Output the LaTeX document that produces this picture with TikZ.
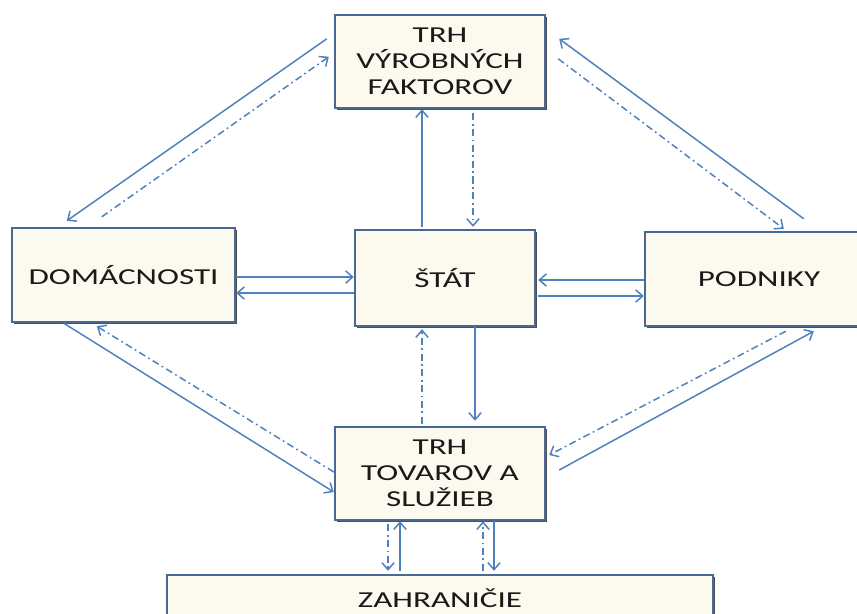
\documentclass[tikz,border=0pt]{standalone}
\usepackage{fontspec}
\setmainfont{Carlito}[FakeStretch=1.45]
\usepackage{tikz}
\usetikzlibrary{arrows.meta}
\usetikzlibrary{calc}
\usetikzlibrary{shadows}
\definecolor{boxfill}{HTML}{FCFAEF}
\definecolor{boxline}{HTML}{4A6894}
\definecolor{arrowblue}{HTML}{4F81BD}

\begin{document}
\begin{tikzpicture}[x=0.02cm, y=-0.02cm,
  box/.style={draw=boxline, line width=1.4pt, fill=boxfill, align=center,
    inner sep=0pt, text=black!90,
    font=\fontsize{13}{14.8}\selectfont,
    drop shadow={shadow xshift=1.3pt, shadow yshift=-1.3pt, fill=black!80, opacity=0.85}},
  flow/.style={draw=arrowblue, line width=0.85pt, -{Straight Barb[length=4pt,width=7pt]}},
  dflow/.style={flow, dash pattern=on 4pt off 2pt on 1pt off 2pt}]
\useasboundingbox (0,0) rectangle (857,613);
\node [box, minimum width=4.2cm, minimum height=1.86cm] (trhvf) at (440,61.5) {TRH\\VÝROBNÝCH\\FAKTOROV};
\node [box, minimum width=4.46cm, minimum height=1.88cm] (dom) at (123.5,275) {DOMÁCNOSTI};
\node [box, minimum width=3.6cm, minimum height=1.92cm] (stat) at (445,278) {ŠTÁT};
\node [box, minimum width=4.56cm, minimum height=1.88cm] (podn) at (759,279) {PODNIKY};
\node [box, minimum width=4.2cm, minimum height=1.86cm] (trhts) at (440,473.5) {TRH\\TOVAROV A\\SLUŽIEB};
\node [box, minimum width=10.92cm, minimum height=0.92cm] (zahr) at (440,598) {ZAHRANIČIE};
% trh vyrobnych faktorov
\draw [flow] ($(trhvf.north west)+(-7,25)$) -- ($(dom.north west)+(56,-6)$);
\draw [dflow] ($(dom.north west)+(91,-10)$) -- ($(trhvf.north west)+(-5,43)$);
\draw [flow] ($(podn.north west)+(160,-12)$) -- ($(trhvf.north east)+(13,25)$);
\draw [dflow] ($(trhvf.north east)+(12,45)$) -- ($(podn.north west)+(140,-2)$);
\draw [flow] ($(stat.north)+(-23,-2)$) -- ($(trhvf.south)+(-18,0)$);
\draw [dflow] ($(trhvf.south)+(33,4)$) -- ($(stat.north)+(28,-2)$);
% stat
\draw [flow] ($(dom.east)+(0,2)$) -- ($(stat.west)+(0,-1)$);
\draw [flow] ($(stat.west)+(0,15)$) -- ($(dom.east)+(0,18)$);
\draw [flow] ($(podn.west)+(0,1)$) -- ($(stat.east)+(2,2)$);
\draw [flow] ($(stat.east)+(2,18)$) -- ($(podn.west)+(0,17)$);
\draw [dflow] ($(trhts.north)+(-18,-2)$) -- ($(stat.south)+(-23,2)$);
\draw [flow] ($(stat.south)+(30,0)$) -- ($(trhts.north)+(35,-5)$);
% trh tovarov a sluzieb
\draw [flow] ($(dom.south west)+(53,0)$) -- ($(trhts.west)+(0,18.5)$);
\draw [dflow] ($(trhts.west)+(0,-1.5)$) -- ($(dom.south west)+(86,3)$);
\draw [dflow] ($(podn.south west)+(142,4)$) -- ($(trhts.east)+(3,-18.5)$);
\draw [flow] ($(trhts.east)+(13,-3.5)$) -- ($(podn.south west)+(170,4)$);
% zahranicie
\draw [dflow] ($(trhts.south)+(-52,3)$) -- ($(zahr.north)+(-52,-3)$);
\draw [flow] ($(zahr.north)+(-40,-3)$) -- ($(trhts.south)+(-40,0)$);
\draw [dflow] ($(zahr.north)+(43,-3)$) -- ($(trhts.south)+(43,0)$);
\draw [flow] ($(trhts.south)+(54,0)$) -- ($(zahr.north)+(54,-3)$);
\end{tikzpicture}
\end{document}
